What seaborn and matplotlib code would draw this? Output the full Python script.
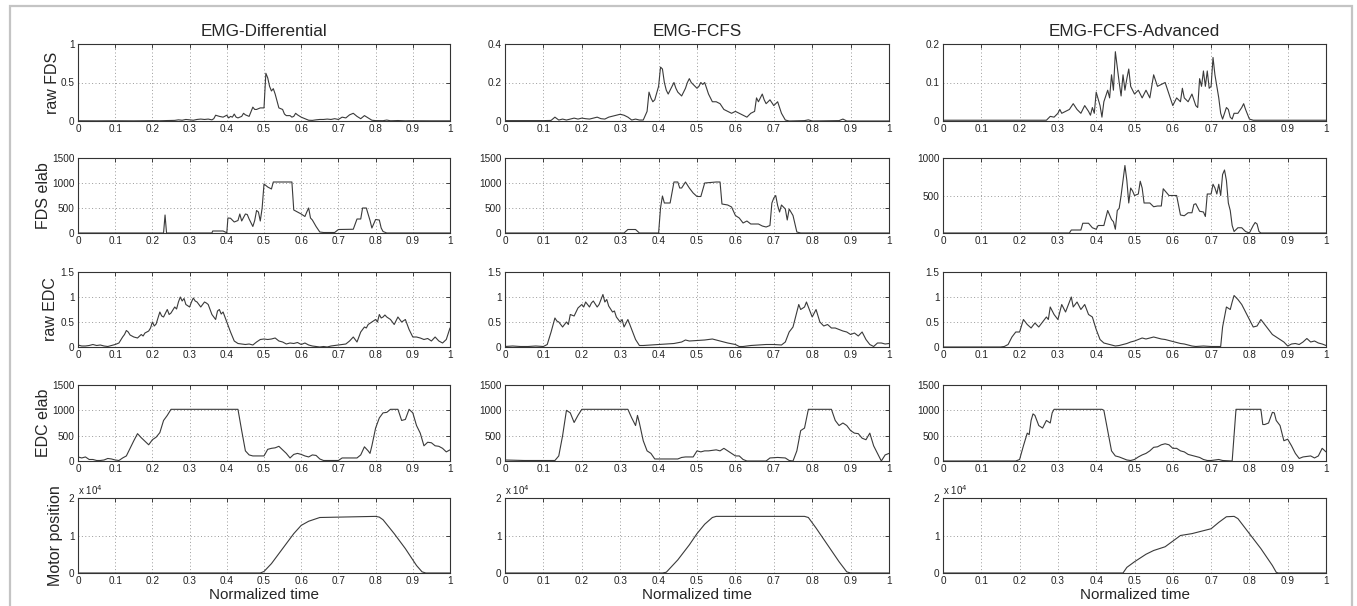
import matplotlib
matplotlib.use("Agg")
import matplotlib.pyplot as plt
import seaborn as sns
from matplotlib.ticker import FuncFormatter, FixedLocator
from matplotlib.patches import Rectangle

# ---------------- data ----------------
columns = ["EMG-Differential", "EMG-FCFS", "EMG-FCFS-Advanced"]
row_labels = ["raw FDS", "FDS elab", "raw EDC", "EDC elab", "Motor position"]
x_ticks = [0, 0.1, 0.2, 0.3, 0.4, 0.5, 0.6, 0.7, 0.8, 0.9, 1.0]

# y ticks per (row, column)
y_ticks = [
    [[0, 0.5, 1], [0, 0.2, 0.4], [0, 0.1, 0.2]],
    [[0, 500, 1000, 1500], [0, 500, 1000, 1500], [0, 500, 1000]],
    [[0, 0.5, 1, 1.5], [0, 0.5, 1, 1.5], [0, 0.5, 1, 1.5]],
    [[0, 500, 1000, 1500], [0, 500, 1000, 1500], [0, 500, 1000, 1500]],
    [[0, 10000, 20000], [0, 10000, 20000], [0, 10000, 20000]],
]

# ---- EMG-Differential ----
diff_raw_fds = [(0,0.003),(0.05,0.002),(0.1,0.003),(0.15,0.002),(0.2,0.004),(0.22,0.003),(0.24,0.006),
    (0.26,0.008),(0.27,0.015),(0.28,0.01),(0.29,0.02),(0.30,0.015),(0.31,0.01),(0.32,0.02),(0.33,0.025),
    (0.34,0.02),(0.35,0.025),(0.36,0.015),(0.365,0.03),(0.37,0.075),(0.38,0.06),(0.39,0.05),(0.40,0.075),
    (0.405,0.04),(0.41,0.06),(0.415,0.05),(0.42,0.09),(0.425,0.05),(0.43,0.04),(0.44,0.06),(0.445,0.1),
    (0.45,0.08),(0.46,0.06),(0.465,0.12),(0.47,0.18),(0.475,0.15),(0.48,0.15),(0.49,0.17),(0.50,0.17),
    (0.505,0.62),(0.51,0.56),(0.515,0.45),(0.52,0.39),(0.525,0.42),(0.53,0.35),(0.535,0.26),(0.54,0.17),
    (0.55,0.15),(0.555,0.09),(0.56,0.07),(0.57,0.07),(0.575,0.05),(0.58,0.06),(0.585,0.1),(0.59,0.08),
    (0.60,0.05),(0.61,0.03),(0.62,0.01),(0.63,0.008),(0.64,0.015),(0.65,0.02),(0.66,0.02),(0.67,0.025),
    (0.68,0.02),(0.69,0.03),(0.70,0.02),(0.71,0.05),(0.72,0.04),(0.73,0.08),(0.74,0.1),(0.75,0.06),
    (0.76,0.03),(0.77,0.07),(0.78,0.04),(0.79,0.01),(0.80,0.005),(0.82,0.004),(0.83,0.012),(0.84,0.003),
    (0.86,0.006),(0.88,0.002),(0.9,0.003),(0.95,0.002),(1.0,0.002)]
diff_fds_elab = [(0,0),(0.23,0),(0.234,360),(0.238,0),(0.36,0),(0.362,40),(0.39,40),(0.40,5),(0.403,300),
    (0.41,295),(0.42,220),(0.43,250),(0.435,380),(0.44,240),(0.45,380),(0.455,370),(0.46,280),(0.47,130),
    (0.475,250),(0.48,450),(0.485,420),(0.49,240),(0.495,500),(0.50,980),(0.51,920),(0.52,880),(0.525,1020),
    (0.575,1020),(0.58,460),(0.59,420),(0.60,380),(0.61,330),(0.615,420),(0.62,500),(0.625,300),(0.63,260),
    (0.64,130),(0.65,20),(0.66,10),(0.69,10),(0.70,70),(0.74,75),(0.75,280),(0.76,280),(0.765,500),
    (0.775,500),(0.785,250),(0.79,100),(0.80,270),(0.81,260),(0.815,100),(0.82,30),(0.83,0),(1.0,0)]
diff_raw_edc = [(0,0.04),(0.01,0.02),(0.02,0.02),(0.03,0.03),(0.04,0.05),(0.05,0.03),(0.06,0.04),(0.07,0.02),
    (0.08,0.01),(0.09,0.03),(0.10,0.05),(0.11,0.08),(0.12,0.2),(0.125,0.25),(0.13,0.33),(0.135,0.3),(0.14,0.24),
    (0.15,0.2),(0.16,0.18),(0.17,0.25),(0.175,0.22),(0.18,0.28),(0.19,0.32),(0.195,0.38),(0.20,0.5),(0.205,0.42),
    (0.21,0.46),(0.22,0.7),(0.225,0.62),(0.23,0.6),(0.24,0.75),(0.245,0.65),(0.25,0.68),(0.26,0.8),(0.265,0.76),
    (0.27,0.9),(0.275,1.0),(0.28,0.92),(0.285,0.97),(0.29,0.85),(0.30,0.8),(0.305,0.9),(0.31,0.98),(0.315,0.92),
    (0.32,0.9),(0.325,0.85),(0.33,0.8),(0.34,0.9),(0.345,0.88),(0.35,0.85),(0.355,0.75),(0.36,0.65),(0.365,0.6),
    (0.37,0.55),(0.375,0.72),(0.38,0.75),(0.385,0.66),(0.39,0.7),(0.395,0.6),(0.40,0.5),(0.41,0.3),(0.42,0.12),
    (0.43,0.07),(0.44,0.06),(0.45,0.05),(0.46,0.06),(0.47,0.04),(0.48,0.1),(0.49,0.15),(0.50,0.16),(0.51,0.15),
    (0.52,0.16),(0.53,0.18),(0.54,0.12),(0.55,0.1),(0.56,0.06),(0.57,0.08),(0.58,0.07),(0.59,0.09),(0.60,0.05),
    (0.61,0.08),(0.62,0.04),(0.63,0.02),(0.64,0.01),(0.65,0.0),(0.66,0.01),(0.67,0.0),(0.68,0.02),(0.69,0.03),
    (0.70,0.04),(0.71,0.05),(0.72,0.06),(0.73,0.12),(0.74,0.2),(0.75,0.1),(0.76,0.3),(0.77,0.4),(0.775,0.38),
    (0.78,0.45),(0.79,0.5),(0.80,0.55),(0.805,0.5),(0.81,0.65),(0.815,0.58),(0.82,0.6),(0.825,0.64),(0.83,0.6),
    (0.84,0.55),(0.85,0.45),(0.86,0.6),(0.87,0.5),(0.88,0.55),(0.89,0.35),(0.90,0.2),(0.91,0.2),(0.92,0.18),
    (0.93,0.15),(0.94,0.17),(0.95,0.12),(0.96,0.2),(0.97,0.12),(0.98,0.08),(0.99,0.15),(1.0,0.38)]
diff_edc_elab = [(0,80),(0.01,60),(0.02,80),(0.03,30),(0.04,30),(0.05,10),(0.06,10),(0.07,20),(0.08,50),
    (0.09,40),(0.10,20),(0.11,10),(0.12,60),(0.13,100),(0.14,250),(0.15,400),(0.16,540),(0.17,460),(0.18,390),
    (0.19,320),(0.20,420),(0.21,470),(0.22,560),(0.23,800),(0.24,900),(0.25,1020),(0.43,1020),(0.44,600),
    (0.45,200),(0.46,120),(0.47,100),(0.50,100),(0.51,230),(0.52,250),(0.53,260),(0.54,290),(0.55,220),
    (0.56,150),(0.57,60),(0.58,130),(0.59,150),(0.60,130),(0.61,100),(0.62,80),(0.63,120),(0.64,110),(0.65,40),
    (0.66,10),(0.70,10),(0.71,60),(0.75,60),(0.76,120),(0.77,280),(0.78,200),(0.785,150),(0.79,300),(0.80,650),
    (0.81,850),(0.82,950),(0.83,960),(0.84,1020),(0.86,1020),(0.87,800),(0.88,820),(0.89,1020),(0.90,950),
    (0.91,700),(0.92,550),(0.93,300),(0.94,370),(0.95,360),(0.96,300),(0.97,290),(0.98,250),(0.99,180),(1.0,220)]
diff_motor = [(0,0),(0.49,0),(0.50,400),(0.52,2500),(0.55,6500),(0.58,10500),(0.60,12700),(0.62,13800),
    (0.65,14800),(0.70,14900),(0.75,15000),(0.80,15100),(0.81,14900),(0.82,14200),(0.85,10500),(0.88,6500),
    (0.91,2000),(0.925,300),(0.935,0),(1.0,0)]

# ---- EMG-FCFS ----
fcfs_raw_fds = [(0,0.002),(0.05,0.002),(0.10,0.002),(0.12,0.003),(0.13,0.02),(0.14,0.005),(0.15,0.01),
    (0.16,0.005),(0.17,0.01),(0.18,0.015),(0.19,0.01),(0.20,0.015),(0.21,0.012),(0.22,0.01),(0.23,0.015),
    (0.24,0.02),(0.25,0.012),(0.26,0.01),(0.27,0.02),(0.28,0.025),(0.29,0.03),(0.30,0.035),(0.31,0.03),
    (0.32,0.02),(0.33,0.005),(0.34,0.01),(0.35,0.005),(0.36,0.005),(0.37,0.05),(0.375,0.15),(0.38,0.12),
    (0.385,0.1),(0.39,0.11),(0.40,0.18),(0.405,0.28),(0.41,0.27),(0.415,0.2),(0.42,0.16),(0.425,0.14),
    (0.43,0.16),(0.44,0.2),(0.445,0.17),(0.45,0.15),(0.455,0.14),(0.46,0.13),(0.47,0.17),(0.475,0.2),
    (0.48,0.22),(0.485,0.2),(0.49,0.19),(0.50,0.17),(0.505,0.18),(0.51,0.2),(0.515,0.19),(0.52,0.2),
    (0.525,0.17),(0.53,0.14),(0.54,0.1),(0.55,0.1),(0.56,0.09),(0.57,0.06),(0.58,0.05),(0.59,0.04),
    (0.60,0.05),(0.61,0.04),(0.62,0.03),(0.63,0.02),(0.64,0.04),(0.65,0.05),(0.655,0.12),(0.66,0.1),
    (0.67,0.14),(0.675,0.11),(0.68,0.09),(0.69,0.11),(0.70,0.08),(0.71,0.1),(0.72,0.04),(0.73,0.005),
    (0.74,0.0),(0.78,0.002),(0.79,0.006),(0.80,0.0),(0.87,0.002),(0.88,0.01),(0.89,0.0),(1.0,0.0)]
fcfs_fds_elab = [(0,0),(0.31,0),(0.32,70),(0.34,70),(0.35,0),(0.40,0),(0.405,500),(0.41,740),(0.415,600),
    (0.43,600),(0.44,1020),(0.45,1020),(0.455,900),(0.46,900),(0.47,1020),(0.48,900),(0.49,800),(0.50,730),
    (0.51,730),(0.52,1000),(0.55,1020),(0.56,1020),(0.565,580),(0.58,560),(0.59,520),(0.60,350),(0.61,300),
    (0.62,200),(0.63,240),(0.64,180),(0.66,180),(0.67,140),(0.68,120),(0.69,150),(0.695,600),(0.70,700),
    (0.705,750),(0.71,550),(0.715,420),(0.72,560),(0.73,480),(0.735,260),(0.74,480),(0.75,350),(0.76,20),
    (0.77,0),(1.0,0)]
fcfs_raw_edc = [(0,0.01),(0.02,0.02),(0.04,0.01),(0.06,0.01),(0.08,0.02),(0.10,0.01),(0.11,0.05),(0.12,0.3),
    (0.13,0.58),(0.135,0.52),(0.14,0.5),(0.15,0.4),(0.16,0.5),(0.165,0.45),(0.17,0.65),(0.18,0.62),(0.185,0.7),
    (0.19,0.78),(0.20,0.85),(0.205,0.8),(0.21,0.9),(0.22,0.8),(0.225,0.88),(0.23,0.92),(0.24,0.8),(0.245,0.85),
    (0.25,0.95),(0.255,1.05),(0.26,0.9),(0.265,0.95),(0.27,0.82),(0.28,0.7),(0.285,0.72),(0.29,0.6),(0.30,0.5),
    (0.305,0.55),(0.31,0.4),(0.32,0.55),(0.33,0.35),(0.34,0.15),(0.35,0.03),(0.36,0.03),(0.38,0.04),(0.40,0.05),
    (0.42,0.06),(0.44,0.07),(0.46,0.1),(0.47,0.14),(0.48,0.12),(0.50,0.13),(0.52,0.14),(0.54,0.16),(0.56,0.12),
    (0.58,0.08),(0.60,0.05),(0.61,0.01),(0.62,0.01),(0.64,0.03),(0.66,0.04),(0.68,0.05),(0.70,0.05),(0.72,0.04),
    (0.73,0.1),(0.74,0.3),(0.75,0.4),(0.76,0.7),(0.765,0.85),(0.77,0.75),(0.78,0.8),(0.785,0.9),(0.79,0.8),
    (0.80,0.6),(0.81,0.75),(0.82,0.5),(0.83,0.42),(0.84,0.45),(0.85,0.38),(0.86,0.38),(0.87,0.35),(0.88,0.32),
    (0.89,0.3),(0.90,0.25),(0.91,0.28),(0.92,0.22),(0.93,0.3),(0.94,0.15),(0.95,0.05),(0.96,0.01),(0.97,0.08),
    (0.98,0.08),(0.99,0.06),(1.0,0.07)]
fcfs_edc_elab = [(0,20),(0.05,10),(0.10,10),(0.13,10),(0.14,100),(0.15,500),(0.16,1000),(0.17,950),(0.18,760),
    (0.19,900),(0.20,1020),(0.32,1020),(0.33,850),(0.34,700),(0.345,900),(0.35,750),(0.36,400),(0.37,200),
    (0.38,150),(0.39,40),(0.45,40),(0.46,70),(0.47,80),(0.49,80),(0.50,200),(0.51,180),(0.52,200),(0.53,200),
    (0.54,210),(0.55,220),(0.56,200),(0.57,250),(0.58,200),(0.59,150),(0.60,100),(0.61,100),(0.62,30),(0.63,0),
    (0.68,0),(0.69,60),(0.71,70),(0.73,60),(0.74,10),(0.75,0),(0.76,200),(0.77,600),(0.78,650),(0.79,1020),
    (0.85,1020),(0.86,800),(0.87,700),(0.88,750),(0.89,700),(0.90,600),(0.91,550),(0.92,540),(0.93,450),
    (0.94,420),(0.95,550),(0.96,300),(0.97,150),(0.98,0),(0.99,120),(1.0,150)]
fcfs_motor = [(0,0),(0.41,0),(0.42,200),(0.45,3500),(0.48,7500),(0.50,10500),(0.52,13000),(0.54,14800),
    (0.55,15100),(0.78,15100),(0.79,14800),(0.81,12000),(0.84,7500),(0.87,3000),(0.89,300),(0.90,0),(1.0,0)]

# ---- EMG-FCFS-Advanced ----
adv_raw_fds = [(0,0.002),(0.27,0.002),(0.28,0.012),(0.29,0.01),(0.30,0.02),(0.305,0.03),(0.31,0.02),
    (0.32,0.025),(0.33,0.03),(0.34,0.045),(0.35,0.03),(0.36,0.02),(0.37,0.04),(0.38,0.025),(0.385,0.015),
    (0.39,0.035),(0.395,0.02),(0.40,0.075),(0.41,0.04),(0.415,0.01),(0.42,0.05),(0.43,0.08),(0.435,0.06),
    (0.44,0.12),(0.445,0.08),(0.45,0.18),(0.46,0.1),(0.465,0.065),(0.47,0.12),(0.475,0.08),(0.48,0.11),
    (0.485,0.135),(0.49,0.09),(0.50,0.07),(0.51,0.08),(0.52,0.06),(0.53,0.08),(0.54,0.06),(0.55,0.12),
    (0.56,0.09),(0.57,0.095),(0.58,0.1),(0.59,0.07),(0.60,0.04),(0.61,0.06),(0.62,0.05),(0.625,0.085),
    (0.63,0.06),(0.64,0.05),(0.65,0.07),(0.66,0.04),(0.665,0.035),(0.67,0.11),(0.675,0.09),(0.68,0.13),
    (0.685,0.09),(0.69,0.13),(0.695,0.085),(0.70,0.09),(0.705,0.165),(0.71,0.12),(0.72,0.06),(0.725,0.02),
    (0.73,0.005),(0.74,0.035),(0.745,0.03),(0.75,0.01),(0.755,0.005),(0.76,0.02),(0.77,0.02),(0.78,0.035),
    (0.785,0.045),(0.79,0.03),(0.80,0.005),(0.81,0.002),(1.0,0.002)]
adv_fds_elab = [(0,0),(0.33,0),(0.335,40),(0.36,40),(0.365,130),(0.38,130),(0.39,70),(0.40,50),(0.405,100),
    (0.42,100),(0.43,300),(0.44,180),(0.445,150),(0.45,50),(0.455,300),(0.46,330),(0.465,500),(0.47,700),
    (0.475,900),(0.48,700),(0.485,400),(0.49,600),(0.495,560),(0.50,500),(0.51,520),(0.515,690),(0.52,600),
    (0.525,400),(0.54,400),(0.55,350),(0.56,360),(0.57,360),(0.575,590),(0.58,560),(0.59,500),(0.61,500),
    (0.62,240),(0.63,230),(0.64,270),(0.65,270),(0.655,380),(0.66,390),(0.67,290),(0.68,280),(0.685,220),
    (0.69,520),(0.70,520),(0.705,650),(0.71,600),(0.715,520),(0.72,650),(0.725,500),(0.73,780),(0.735,840),
    (0.74,700),(0.745,400),(0.75,300),(0.755,100),(0.76,20),(0.77,70),(0.78,70),(0.79,20),(0.80,0),(0.81,100),
    (0.815,140),(0.82,120),(0.825,20),(0.83,0),(1.0,0)]
adv_raw_edc = [(0,0),(0.15,0),(0.16,0.01),(0.17,0.05),(0.18,0.2),(0.19,0.3),(0.20,0.3),(0.21,0.55),(0.22,0.45),
    (0.23,0.38),(0.24,0.48),(0.25,0.4),(0.26,0.5),(0.27,0.6),(0.275,0.55),(0.28,0.8),(0.29,0.65),(0.30,0.55),
    (0.31,0.85),(0.32,0.7),(0.33,0.9),(0.335,1.0),(0.34,0.8),(0.35,0.9),(0.36,0.75),(0.37,0.85),(0.38,0.65),
    (0.39,0.6),(0.40,0.35),(0.41,0.15),(0.42,0.08),(0.43,0.06),(0.44,0.04),(0.45,0.02),(0.46,0.03),(0.47,0.05),
    (0.48,0.07),(0.49,0.1),(0.50,0.12),(0.51,0.15),(0.52,0.18),(0.53,0.16),(0.54,0.18),(0.55,0.2),(0.56,0.18),
    (0.57,0.16),(0.58,0.15),(0.59,0.13),(0.60,0.11),(0.61,0.09),(0.62,0.07),(0.63,0.06),(0.64,0.04),(0.65,0.02),
    (0.66,0.01),(0.68,0.02),(0.70,0.01),(0.725,0.01),(0.73,0.4),(0.74,0.8),(0.75,0.75),(0.755,0.9),(0.76,1.03),
    (0.77,0.95),(0.78,0.85),(0.79,0.7),(0.80,0.55),(0.81,0.4),(0.82,0.42),(0.83,0.55),(0.84,0.45),(0.85,0.35),
    (0.86,0.25),(0.87,0.2),(0.88,0.15),(0.89,0.1),(0.90,0.02),(0.91,0.06),(0.92,0.07),(0.93,0.05),(0.94,0.1),
    (0.95,0.17),(0.96,0.1),(0.97,0.12),(0.98,0.08),(0.99,0.06),(1.0,0.03)]
adv_edc_elab = [(0,0),(0.19,0),(0.20,30),(0.21,300),(0.22,550),(0.225,520),(0.23,800),(0.235,930),(0.24,900),
    (0.25,700),(0.26,650),(0.27,800),(0.28,750),(0.285,950),(0.29,1020),(0.415,1020),(0.42,1000),(0.43,600),
    (0.44,200),(0.45,100),(0.46,80),(0.47,50),(0.48,20),(0.49,10),(0.50,30),(0.51,80),(0.52,120),(0.53,150),
    (0.54,200),(0.55,270),(0.56,280),(0.57,320),(0.58,340),(0.59,320),(0.60,250),(0.61,250),(0.62,200),
    (0.63,180),(0.64,130),(0.65,110),(0.66,90),(0.67,70),(0.68,30),(0.69,10),(0.70,10),(0.72,30),(0.73,10),
    (0.755,0),(0.765,1020),(0.83,1020),(0.835,720),(0.84,720),(0.85,750),(0.86,960),(0.865,950),(0.87,800),
    (0.88,700),(0.89,400),(0.90,430),(0.91,300),(0.92,150),(0.93,50),(0.94,80),(0.95,90),(0.96,100),(0.97,60),
    (0.98,100),(0.99,250),(1.0,180)]
adv_motor = [(0,0),(0.47,0),(0.48,1500),(0.50,3000),(0.53,5000),(0.55,6000),(0.58,7000),(0.60,8500),
    (0.62,10000),(0.65,10500),(0.70,11800),(0.72,13500),(0.74,15000),(0.76,15100),(0.77,14500),(0.80,10500),
    (0.83,6500),(0.86,2000),(0.87,200),(0.875,0),(1.0,0)]

series = [
    [diff_raw_fds, fcfs_raw_fds, adv_raw_fds],
    [diff_fds_elab, fcfs_fds_elab, adv_fds_elab],
    [diff_raw_edc, fcfs_raw_edc, adv_raw_edc],
    [diff_edc_elab, fcfs_edc_elab, adv_edc_elab],
    [diff_motor, fcfs_motor, adv_motor],
]

# ---------------- style / layout ----------------
sns.set_style("white")
plt.rcParams['font.family'] = ['Liberation Sans', 'DejaVu Sans']

W, H = 1357, 606
fig = plt.figure(figsize=(W / 100, H / 100), dpi=100)

col_px = [(78, 450), (505, 889), (943, 1326)]
row_px = [(44, 121), (158, 233), (272, 347), (385, 461), (498, 573)]
label_right_px = [60, 51, 58, 51, 63]
LINE = "#3a3a3a"

fig.patches.append(Rectangle((10 / W, -0.02), (1352 - 10) / W, 1 - 6 / H + 0.02,
                             transform=fig.transFigure, fill=False,
                             edgecolor="#c4c4c4", linewidth=1.6))

fmt = FuncFormatter(lambda v, p: "%g" % v)
fmt_e4 = FuncFormatter(lambda v, p: "%g" % (v / 1e4))

for r in range(5):
    for c in range(3):
        x0, x1 = col_px[c]
        t0, t1 = row_px[r]
        ax = fig.add_axes([x0 / W, 1 - t1 / H, (x1 - x0) / W, (t1 - t0) / H])
        data = series[r][c]
        t = [p[0] for p in data]
        v = [p[1] for p in data]
        sns.lineplot(x=t, y=v, ax=ax, color=LINE, linewidth=0.8, estimator=None, sort=False)
        yt = y_ticks[r][c]
        ax.set_xlim(0, 1)
        ax.set_ylim(yt[0], yt[-1])
        ax.xaxis.set_major_locator(FixedLocator(x_ticks))
        ax.yaxis.set_major_locator(FixedLocator(yt))
        ax.xaxis.set_major_formatter(fmt)
        ax.yaxis.set_major_formatter(fmt_e4 if r == 4 else fmt)
        ax.grid(True, linestyle=(0, (1, 2.5)), color="#9a9a9a", linewidth=0.7)
        ax.set_axisbelow(True)
        ax.tick_params(direction="in", length=3, width=0.6, top=True, right=True,
                       labelsize=7.2, pad=2.5, colors="#222222")
        for s in ax.spines.values():
            s.set_color("#333333")
            s.set_linewidth(0.8)
        ax.set_xlabel("")
        ax.set_ylabel("")
        if c == 0:
            ax.set_ylabel(row_labels[r], fontsize=11.5)
            ax.yaxis.set_label_coords((label_right_px[r] - x0) / (x1 - x0), 0.5)
        if r == 0:
            ax.set_title(columns[c], fontsize=12.3, pad=6)
        if r == 4:
            ax.set_xlabel("Normalized time", fontsize=11, labelpad=1)
            ax.text(0.0, 1.01, r"x 10$^4$", transform=ax.transAxes, fontsize=7,
                    ha="left", va="bottom", color="#222222")

fig.savefig("out.png", dpi=100)
